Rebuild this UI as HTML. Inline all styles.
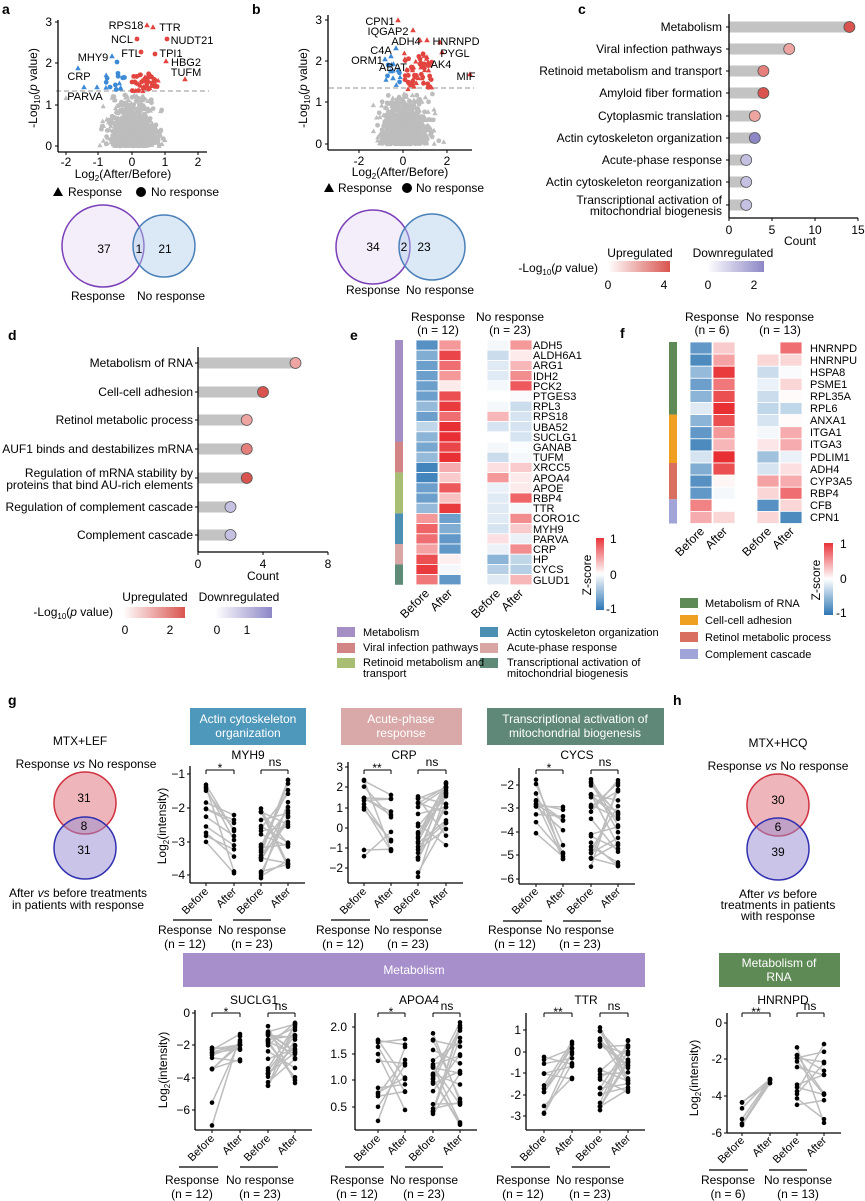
<!DOCTYPE html>
<html><head><meta charset="utf-8"><style>
html,body{margin:0;padding:0;background:#fff}
svg{display:block;font-family:"Liberation Sans",Arial,sans-serif}
.b{font-weight:bold;font-size:14px}
.t{font-size:11px}
.m{font-size:12px}
</style></head><body>
<svg id="s" width="865" height="1201" viewBox="0 0 865 1201" xmlns="http://www.w3.org/2000/svg">
<defs>
<linearGradient id="gu" x1="0" x2="1"><stop offset="0" stop-color="#fff"/><stop offset="1" stop-color="#d9544f"/></linearGradient>
<linearGradient id="gd" x1="0" x2="1"><stop offset="0" stop-color="#fff"/><stop offset="1" stop-color="#8d87c6"/></linearGradient>
<linearGradient id="gz" x1="0" x2="0" y1="0" y2="1"><stop offset="0" stop-color="#e8343a"/><stop offset="0.5" stop-color="#fff"/><stop offset="1" stop-color="#2d76b4"/></linearGradient>
</defs>
<g id="dyn"></g>
<g fill="#000">
<text class="b" x="2" y="14">a</text><text class="b" x="252" y="14">b</text><text class="b" x="578" y="14">c</text>
<text class="b" x="8" y="340">d</text><text class="b" x="350" y="340">e</text><text class="b" x="620" y="338">f</text>
<text class="b" x="8" y="705">g</text><text class="b" x="673" y="705">h</text>

<g class="m" text-anchor="end"><text x="52" y="26">3</text><text x="52" y="67">2</text><text x="52" y="109">1</text><text x="52" y="150">0</text></g>
<g class="m" text-anchor="middle"><text x="66" y="166">-2</text><text x="98" y="166">-1</text><text x="132" y="166">0</text><text x="165" y="166">1</text><text x="198" y="166">2</text>
<text x="123" y="178">Log<tspan font-size="8" dy="3">2</tspan><tspan dy="-3">(After/Before)</tspan></text></g>
<text class="m" transform="translate(37,88) rotate(-90)" text-anchor="middle">-Log<tspan font-size="8" dy="3">10</tspan><tspan dy="-3">(</tspan><tspan font-style="italic">p</tspan> value)</text>
<g class="t" text-anchor="middle"><text x="126" y="29">RPS18</text><text x="170" y="31">TTR</text><text x="122" y="43">NCL</text><text x="192" y="44">NUDT21</text>
<text x="93" y="61">MHY9</text><text x="131" y="57">FTL</text><text x="171" y="57">TPI1</text><text x="186" y="66">HBG2</text>
<text x="79" y="80">CRP</text><text x="186" y="76">TUFM</text><text x="85" y="100">PARVA</text></g>
<text class="m" x="68" y="196">Response</text><text class="m" x="151" y="196">No response</text>
<g class="m" text-anchor="end"><text x="322" y="24">3</text><text x="322" y="65">2</text><text x="322" y="106">1</text><text x="322" y="148">0</text></g>
<g class="m" text-anchor="middle"><text x="359" y="165">-2</text><text x="403" y="165">0</text><text x="447" y="165">2</text>
<text x="400" y="176">Log<tspan font-size="8" dy="3">2</tspan><tspan dy="-3">(After/Before)</tspan></text></g>
<text class="m" transform="translate(307,88) rotate(-90)" text-anchor="middle">-Log<tspan font-size="8" dy="3">10</tspan><tspan dy="-3">(</tspan><tspan font-style="italic">p</tspan> value)</text>
<g class="t" text-anchor="middle"><text x="380" y="25">CPN1</text><text x="388" y="35">IQGAP2</text><text x="406" y="45">ADH4</text><text x="381" y="54">C4A</text>
<text x="367" y="64">ORM1</text><text x="393" y="71">ABAT</text><text x="456" y="45">HNRNPD</text><text x="455" y="57">PYGL</text><text x="441" y="68">AK4</text><text x="466" y="80">MIF</text></g>
<text class="m" x="338" y="192">Response</text><text class="m" x="416" y="192">No response</text>
<circle cx="103" cy="246" r="41" fill="#f3eefa" stroke="#7b3fb8" stroke-width="1.5"/>
<circle cx="164" cy="246" r="31" fill="rgba(175,205,235,0.45)" stroke="#4a80b8" stroke-width="1.5"/>
<g class="m" text-anchor="middle"><text x="104" y="253">37</text><text x="139" y="253">1</text><text x="165" y="253">21</text>
<text x="98" y="300">Response</text><text x="171" y="300">No response</text></g>
<circle cx="373" cy="247" r="37" fill="#f3eefa" stroke="#7b3fb8" stroke-width="1.5"/>
<circle cx="432" cy="247" r="33" fill="rgba(175,205,235,0.45)" stroke="#4a80b8" stroke-width="1.5"/>
<g class="m" text-anchor="middle"><text x="373" y="251">34</text><text x="404" y="251">2</text><text x="424" y="251">23</text>
<text x="373" y="294">Response</text><text x="440" y="294">No response</text></g>

<g class="m" text-anchor="end">
<text x="722" y="31">Metabolism</text><text x="722" y="53">Viral infection pathways</text><text x="722" y="75">Retinoid metabolism and transport</text>
<text x="722" y="97">Amyloid fiber formation</text><text x="722" y="120">Cytoplasmic translation</text><text x="722" y="142">Actin cytoskeleton organization</text>
<text x="722" y="164">Acute-phase response</text><text x="722" y="186">Actin cytoskeleton reorganization</text>
<text x="722" y="204">Transcriptional activation of</text><text x="722" y="215">mitochondrial biogenesis</text></g>
<g class="m" text-anchor="middle"><text x="729" y="234">0</text><text x="772" y="234">5</text><text x="815" y="234">10</text><text x="858" y="234">15</text><text x="800" y="245">Count</text>
<text x="640" y="257">Upregulated</text><text x="733" y="257">Downregulated</text>
<text x="608" y="289">0</text><text x="664" y="289">4</text><text x="708" y="289">0</text><text x="754" y="289">2</text></g>
<text class="m" x="598" y="272" text-anchor="end">-Log<tspan font-size="8" dy="3">10</tspan><tspan dy="-3">(</tspan><tspan font-style="italic">p</tspan> value)</text>
<rect x="608" y="261" width="62" height="11" fill="url(#gu)"/><rect x="707" y="261" width="57" height="11" fill="url(#gd)"/>

<g class="m" text-anchor="end">
<text x="193" y="367">Metabolism of RNA</text><text x="193" y="396">Cell-cell adhesion</text><text x="193" y="424">Retinol metabolic process</text>
<text x="193" y="453">AUF1 binds and destabilizes mRNA</text><text x="193" y="477">Regulation of mRNA stability by</text><text x="193" y="489">proteins that bind AU-rich elements</text>
<text x="193" y="511">Regulation of complement cascade</text><text x="193" y="539">Complement cascade</text></g>
<g class="m" text-anchor="middle"><text x="198" y="568">0</text><text x="263" y="568">4</text><text x="328" y="568">8</text><text x="263" y="580">Count</text>
<text x="155" y="601">Upregulated</text><text x="239" y="601">Downregulated</text>
<text x="125" y="634">0</text><text x="170" y="634">2</text><text x="217" y="634">0</text><text x="247" y="634">1</text></g>
<text class="m" x="113" y="616" text-anchor="end">-Log<tspan font-size="8" dy="3">10</tspan><tspan dy="-3">(</tspan><tspan font-style="italic">p</tspan> value)</text>
<rect x="123" y="607" width="62" height="11" fill="url(#gu)"/><rect x="215" y="607" width="57" height="11" fill="url(#gd)"/>

<g class="m" text-anchor="middle"><text x="438" y="321">Response</text><text x="438" y="334">(n = 12)</text><text x="510" y="321">No response</text><text x="510" y="334">(n = 23)</text>
<text x="712" y="321">Response</text><text x="712" y="334">(n = 6)</text><text x="780" y="321">No response</text><text x="780" y="334">(n = 13)</text></g>
<g class="t">
<text x="533" y="349">ADH5</text><text x="533" y="359">ALDH6A1</text><text x="533" y="369">ARG1</text><text x="533" y="380">IDH2</text><text x="533" y="390">PCK2</text>
<text x="533" y="400">PTGES3</text><text x="533" y="410">RPL3</text><text x="533" y="420">RPS18</text><text x="533" y="431">UBA52</text><text x="533" y="441">SUCLG1</text>
<text x="533" y="451">GANAB</text><text x="533" y="461">TUFM</text><text x="533" y="471">XRCC5</text><text x="533" y="482">APOA4</text><text x="533" y="492">APOE</text>
<text x="533" y="502">RBP4</text><text x="533" y="512">TTR</text><text x="533" y="522">CORO1C</text><text x="533" y="533">MYH9</text><text x="533" y="543">PARVA</text>
<text x="533" y="553">CRP</text><text x="533" y="563">HP</text><text x="533" y="573">CYCS</text><text x="533" y="584">GLUD1</text>
<text x="810" y="352">HNRNPD</text><text x="810" y="364">HNRNPU</text><text x="810" y="376">HSPA8</text><text x="810" y="388">PSME1</text><text x="810" y="400">RPL35A</text>
<text x="810" y="412">RPL6</text><text x="810" y="424">ANXA1</text><text x="810" y="436">ITGA1</text><text x="810" y="448">ITGA3</text><text x="810" y="461">PDLIM1</text>
<text x="810" y="473">ADH4</text><text x="810" y="485">CYP3A5</text><text x="810" y="497">RBP4</text><text x="810" y="509">CFB</text><text x="810" y="521">CPN1</text>
</g>
<g class="m" text-anchor="end">
<text transform="translate(430,594) rotate(-45)">Before</text><text transform="translate(453,594) rotate(-45)">After</text>
<text transform="translate(501,594) rotate(-45)">Before</text><text transform="translate(524,594) rotate(-45)">After</text>
<text transform="translate(705,532) rotate(-45)">Before</text><text transform="translate(728,532) rotate(-45)">After</text>
<text transform="translate(772,532) rotate(-45)">Before</text><text transform="translate(795,532) rotate(-45)">After</text></g>
<rect x="596" y="538" width="8" height="72" fill="url(#gz)"/>
<g class="m"><text x="610" y="543">1</text><text x="610" y="579">0</text><text x="606" y="613">-1</text>
<text x="840" y="548">1</text><text x="840" y="583">0</text><text x="836" y="617">-1</text></g>
<rect x="824" y="543" width="9" height="72" fill="url(#gz)"/>
<text class="m" transform="translate(591,575) rotate(-90)" text-anchor="middle">Z-score</text>
<text class="m" transform="translate(820,580) rotate(-90)" text-anchor="middle">Z-score</text>
<rect x="337" y="627" width="18" height="10" fill="#a58ec4"/><rect x="337" y="643" width="18" height="10" fill="#d38585"/><rect x="337" y="658" width="18" height="10" fill="#a8bf73"/>
<rect x="480" y="627" width="18" height="10" fill="#4b8fb5"/><rect x="480" y="643" width="18" height="10" fill="#d9a6a6"/><rect x="480" y="658" width="18" height="10" fill="#5f8a77"/>
<g class="t"><text x="363" y="636">Metabolism</text><text x="363" y="651">Viral infection pathways</text><text x="363" y="666">Retinoid metabolism and</text><text x="363" y="677">transport</text>
<text x="507" y="636">Actin cytoskeleton organization</text><text x="507" y="651">Acute-phase response</text><text x="507" y="666">Transcriptional activation of</text><text x="507" y="677">mitochondrial biogenesis</text>
<text x="705" y="607">Metabolism of RNA</text><text x="705" y="624">Cell-cell adhesion</text><text x="705" y="641">Retinol metabolic process</text><text x="705" y="658">Complement cascade</text></g>
<rect x="680" y="598" width="18" height="10" fill="#5e8a55"/><rect x="680" y="615" width="18" height="10" fill="#f0a020"/><rect x="680" y="632" width="18" height="10" fill="#d9705f"/><rect x="680" y="649" width="18" height="10" fill="#a0a4d8"/>

<g class="m" text-anchor="middle"><text x="80" y="745">MTX+LEF</text><text x="86" y="768">Response <tspan font-style="italic">vs</tspan> No response</text>
<text x="78" y="897">After <tspan font-style="italic">vs</tspan> before treatments</text><text x="78" y="909">in patients with response</text></g>
<circle cx="85" cy="803" r="31" fill="rgba(222,110,120,0.5)" stroke="#d0303f" stroke-width="1.5"/>
<circle cx="85" cy="848" r="31" fill="rgba(150,140,210,0.5)" stroke="#3030b0" stroke-width="1.5"/>
<g class="m" text-anchor="middle"><text x="84" y="802">31</text><text x="84" y="830">8</text><text x="84" y="854">31</text></g>
<g class="m" text-anchor="middle"><text x="778" y="747">MTX+HCQ</text><text x="778" y="770">Response <tspan font-style="italic">vs</tspan> No response</text>
<text x="778" y="898">After <tspan font-style="italic">vs</tspan> before</text><text x="778" y="909">treatments in patients</text><text x="778" y="920">with response</text></g>
<circle cx="778" cy="805" r="31" fill="rgba(222,110,120,0.5)" stroke="#d0303f" stroke-width="1.5"/>
<circle cx="778" cy="849" r="31" fill="rgba(150,140,210,0.5)" stroke="#3030b0" stroke-width="1.5"/>
<g class="m" text-anchor="middle"><text x="778" y="804">30</text><text x="778" y="831">6</text><text x="778" y="856">39</text></g>

<rect x="190" y="708" width="116" height="37" fill="#4e98bb"/><rect x="341" y="708" width="121" height="37" fill="#d9a8a8"/><rect x="487" y="708" width="177" height="37" fill="#5f8878"/>
<rect x="183" y="953" width="462" height="34" fill="#a78fcb"/><rect x="719" y="953" width="121" height="34" fill="#5e8a55"/>
<g class="m" text-anchor="middle" fill="#fff"><text x="248" y="723">Actin cytoskeleton</text><text x="248" y="737">organization</text>
<text x="401" y="723">Acute-phase</text><text x="401" y="737">response</text><text x="575" y="723">Transcriptional activation of</text><text x="575" y="737">mitochondrial biogenesis</text>
<text x="414" y="974">Metabolism</text><text x="779" y="967">Metabolism of</text><text x="779" y="981">RNA</text></g>
<g class="m" text-anchor="middle"><text x="248" y="759">MYH9</text><text x="404" y="759">CRP</text><text x="577" y="759">CYCS</text>
<text x="254" y="1004">SUCLG1</text><text x="419" y="1004">APOA4</text><text x="586" y="1004">TTR</text><text x="783" y="1004">HNRNPD</text></g>
<g class="m" text-anchor="end">
<text x="185" y="778">−1</text><text x="185" y="812">−2</text><text x="185" y="846">−3</text><text x="185" y="879">−4</text>
<text x="343" y="771">3</text><text x="343" y="791">2</text><text x="343" y="812">1</text><text x="343" y="832">0</text><text x="343" y="852">−1</text><text x="343" y="872">−2</text>
<text x="514" y="789">−2</text><text x="514" y="812">−3</text><text x="514" y="836">−4</text><text x="514" y="859">−5</text><text x="514" y="883">−6</text>
<text x="190" y="1017">0</text><text x="190" y="1049">−2</text><text x="190" y="1082">−4</text><text x="190" y="1114">−6</text>
<text x="347" y="1031">2.0</text><text x="347" y="1058">1.5</text><text x="347" y="1084">1.0</text><text x="347" y="1111">0.5</text>
<text x="521" y="1034">1</text><text x="521" y="1056">0</text><text x="521" y="1077">-1</text><text x="521" y="1099">-2</text><text x="521" y="1120">-3</text>
<text x="722" y="1027">0</text><text x="722" y="1063">-2</text><text x="722" y="1100">-4</text><text x="722" y="1137">-6</text></g>
<g class="m" text-anchor="middle">
<text transform="translate(166,826) rotate(-90)">Log<tspan font-size="8" dy="3">2</tspan><tspan dy="-3">(intensity)</tspan></text>
<text transform="translate(167,1070) rotate(-90)">Log<tspan font-size="8" dy="3">2</tspan><tspan dy="-3">(intensity)</tspan></text>
<text transform="translate(698,1078) rotate(-90)">Log<tspan font-size="8" dy="3">2</tspan><tspan dy="-3">(intensity)</tspan></text></g>
<g class="m" text-anchor="middle"><text x="220" y="772">*</text><text x="275" y="766">ns</text>
<text x="377" y="772">**</text><text x="432" y="766">ns</text><text x="549" y="772">*</text><text x="605" y="766">ns</text>
<text x="226" y="1016">*</text><text x="281" y="1010">ns</text><text x="391" y="1016">*</text><text x="447" y="1010">ns</text>
<text x="558" y="1016">**</text><text x="614" y="1010">ns</text><text x="756" y="1016">**</text><text x="810" y="1010">ns</text></g>
<g class="t" text-anchor="end">
<text transform="translate(209,892) rotate(-45)">Before</text><text transform="translate(237,892) rotate(-45)">After</text><text transform="translate(264,892) rotate(-45)">Before</text><text transform="translate(291,892) rotate(-45)">After</text>
<text transform="translate(367,892) rotate(-45)">Before</text><text transform="translate(394,892) rotate(-45)">After</text><text transform="translate(421,892) rotate(-45)">Before</text><text transform="translate(449,892) rotate(-45)">After</text>
<text transform="translate(539,892) rotate(-45)">Before</text><text transform="translate(566,892) rotate(-45)">After</text><text transform="translate(594,892) rotate(-45)">Before</text><text transform="translate(621,892) rotate(-45)">After</text>
<text transform="translate(215,1139) rotate(-45)">Before</text><text transform="translate(243,1139) rotate(-45)">After</text><text transform="translate(271,1139) rotate(-45)">Before</text><text transform="translate(298,1139) rotate(-45)">After</text>
<text transform="translate(381,1139) rotate(-45)">Before</text><text transform="translate(408,1139) rotate(-45)">After</text><text transform="translate(436,1139) rotate(-45)">Before</text><text transform="translate(463,1139) rotate(-45)">After</text>
<text transform="translate(547,1139) rotate(-45)">Before</text><text transform="translate(575,1139) rotate(-45)">After</text><text transform="translate(603,1139) rotate(-45)">Before</text><text transform="translate(631,1139) rotate(-45)">After</text>
<text transform="translate(745,1141) rotate(-45)">Before</text><text transform="translate(773,1141) rotate(-45)">After</text><text transform="translate(800,1141) rotate(-45)">Before</text><text transform="translate(827,1141) rotate(-45)">After</text></g>
<g class="m" text-anchor="middle">
<text x="185" y="934">Response</text><text x="185" y="948">(n = 12)</text><text x="252" y="934">No response</text><text x="252" y="948">(n = 23)</text>
<text x="343" y="934">Response</text><text x="343" y="948">(n = 12)</text><text x="408" y="934">No response</text><text x="408" y="948">(n = 23)</text>
<text x="515" y="934">Response</text><text x="515" y="948">(n = 12)</text><text x="580" y="934">No response</text><text x="580" y="948">(n = 23)</text>
<text x="192" y="1184">Response</text><text x="192" y="1198">(n = 12)</text><text x="260" y="1184">No response</text><text x="260" y="1198">(n = 23)</text>
<text x="357" y="1184">Response</text><text x="357" y="1198">(n = 12)</text><text x="424" y="1184">No response</text><text x="424" y="1198">(n = 23)</text>
<text x="523" y="1184">Response</text><text x="523" y="1198">(n = 12)</text><text x="590" y="1184">No response</text><text x="590" y="1198">(n = 23)</text>
<text x="728" y="1184">Response</text><text x="728" y="1198">(n = 6)</text><text x="798" y="1184">No response</text><text x="798" y="1198">(n = 13)</text></g>
</g>
</svg>
<script>
var NS='http://www.w3.org/2000/svg',G=document.getElementById('dyn');
function el(t,a){var e=document.createElementNS(NS,t);for(var k in a)e.setAttribute(k,a[k]);G.appendChild(e);return e;}
var seed=12345;function r(){seed=(seed*16807)%2147483647;return (seed-1)/2147483646;}
function nrm(){return Math.sqrt(-2*Math.log(r()+1e-9))*Math.cos(2*Math.PI*r());}
function U(a,b){return a+r()*(b-a);}
function tri(x,y,s,c){el('polygon',{points:x+','+(y-s)+' '+(x-s)+','+(y+s*0.8)+' '+(x+s)+','+(y+s*0.8),fill:c});}
function dot(x,y,rr,c,st){var o={cx:x,cy:y,r:rr,fill:c};if(st){o.stroke=st;o['stroke-width']=0.8;}el('circle',o);}
function line(x1,y1,x2,y2,c,w,da){var o={x1:x1,y1:y1,x2:x2,y2:y2,stroke:c,'stroke-width':w||1};if(da)o['stroke-dasharray']=da;el('line',o);}
var GR='#bdbdbd',RD='#e2443f',BL='#3d8ad6';
function volcano(x0,sx,y0,sy,sdx,yl,xmin,xmax){
 for(var i=0;i<1100;i++){var lx=nrm()*sdx+0.05,v=Math.abs(nrm())*0.42;if(r()<0.05)v=U(0.3,1.25);if(v>1.28)v=r()*1.2;
  var x=x0+lx*sx,y=y0-v*sy;if(x<xmin||x>xmax)continue;if(r()<0.5)tri(x,y,2.6,GR);else dot(x,y,2.4,GR);}
 line(xmin-6,yl,xmax+4,yl,'#aaa',1.2,'5,3');
}
volcano(132,33,146,41.3,0.33,91,62,205);
tri(66,98,2.6,GR);
for(var i=0;i<50;i++){var x=132+U(0,0.8)*33,y=146-U(1.33,1.75)*41.3;if(r()<0.5)tri(x,y,2.6,RD);else dot(x,y,2.4,RD);}
for(var i=0;i<16;i++){var x=132+U(-0.8,-0.15)*33,y=146-U(1.33,1.85)*41.3;if(r()<0.5)tri(x,y,2.6,BL);else dot(x,y,2.4,BL);}
[[147,25],[153,27],[166,61],[185,79]].forEach(function(p){tri(p[0],p[1],2.8,RD)});
[[137,39],[167,39],[141,52],[155,54]].forEach(function(p){dot(p[0],p[1],2.4,RD)});
[[112,56],[78,68],[84,87],[97,87]].forEach(function(p){tri(p[0],p[1],2.8,BL)});dot(117,62,2.4,BL);
line(58,20,58,152,'#000',1.3);line(58,152,207,152,'#000',1.3);
[22,63,105,146].forEach(function(y){line(55,y,58,y,'#000')});[66,98,132,165,198].forEach(function(x){line(x,152,x,155,'#000')});
tri(58,192,5,'#000');dot(141,192,5,'#000');
volcano(403,22,144,41.3,0.5,88,335,470);
for(var i=0;i<65;i++){var x=403+U(0.05,1.3)*22,y=144-U(1.33,2.2)*41.3;if(r()<0.5)tri(x,y,2.6,RD);else dot(x,y,2.4,RD);}
for(var i=0;i<12;i++){var x=403+U(-0.8,-0.1)*22,y=144-U(1.33,2.0)*41.3;if(r()<0.5)tri(x,y,2.6,BL);else dot(x,y,2.4,BL);}
[[398,20],[413,30],[420,40],[427,40],[440,42],[442,52],[428,62],[470,74]].forEach(function(p){tri(p[0],p[1],2.8,RD)});
[[396,48],[391,56],[385,59],[398,70],[393,78]].forEach(function(p){tri(p[0],p[1],2.8,BL)});
line(328,15,328,150,'#000',1.3);line(328,150,472,150,'#000',1.3);
[20,61,102,144].forEach(function(y){line(325,y,328,y,'#000')});[359,403,447].forEach(function(x){line(x,150,x,153,'#000')});
tri(329,188,5,'#000');dot(407,188,5,'#000');
var dk='#d9544f',md='#e57f7b',lt='#eea5a2',pd='#8d87c6',pl='#c5c1e3';
[[27,14,dk],[49,7,lt],[71,4,md],[93,4,dk],[116,3,lt],[138,3,pd],[160,2,pl],[182,2,pl],[205,2,pl]].forEach(function(d){
 var x=729+d[1]*8.6;el('rect',{x:729,y:d[0]-5.5,width:x-729,height:11,fill:'#c3c3c3'});dot(x,d[0],5.5,d[2],'#555');line(726,d[0],729,d[0],'#000');});
line(729,14,729,218,'#000',1.3);line(729,218,858,218,'#000',1.3);[729,772,815,858].forEach(function(x){line(x,218,x,221,'#000')});
[[363,6,lt],[392,4,dk],[420,3,lt],[449,3,md],[478,3,dk],[507,2,pl],[535,2,pl]].forEach(function(d){
 var x=198+d[1]*16.25;el('rect',{x:198,y:d[0]-5.5,width:x-198,height:11,fill:'#c3c3c3'});dot(x,d[0],5.5,d[2],'#555');line(195,d[0],198,d[0],'#000');});
line(198,347,198,552,'#000',1.3);line(198,552,328,552,'#000',1.3);[198,263,328].forEach(function(x){line(x,552,x,555,'#000')});
function hc(v){var R=[232,48,52],B=[45,118,180],c=v>0?R:B,t=Math.min(1,Math.abs(v));
 return 'rgb('+Math.round(255+(c[0]-255)*t)+','+Math.round(255+(c[1]-255)*t)+','+Math.round(255+(c[2]-255)*t)+')';}
var E=[[-.8,.5,-.05,.5],[-.6,.9,-.25,.1],[-.7,.7,-.15,.35],[-.7,.5,-.15,.55],[-.7,.1,-.05,.8],[-.7,.85,0,-.03],[-.5,.95,-.05,-.25],[-.7,.7,.35,-.2],[-.3,1,-.2,-.2],[-.55,1,0,-.2],[-.65,.9,-.05,-.02],[-.5,1,-.25,-.05],[-.9,.4,.15,.25],[-.9,.25,.5,.1],[-.7,.8,-.1,.1],[-.7,.3,-.15,.75],[-.5,.95,-.15,-.05],[.5,-.7,-.15,.55],[.75,-.6,-.2,.25],[.7,-.75,.15,-.1],[.45,-.75,-.1,.55],[.85,.08,-.55,-.3],[.95,-.05,-.35,-.35],[.65,-.75,-.15,.35]];
var ex=[416,439,487,510],eh=10.2;
E.forEach(function(row,i){row.forEach(function(v,j){el('rect',{x:ex[j],y:340+i*eh,width:22,height:eh,fill:hc(v),stroke:'#fff','stroke-width':0.8});});});
[[0,10,'#a58ec4'],[10,13,'#d38585'],[13,17,'#a8bf73'],[17,20,'#4b8fb5'],[20,22,'#d9a6a6'],[22,24,'#5f8a77']].forEach(function(s){el('rect',{x:395,y:340+s[0]*eh,width:8,height:(s[1]-s[0])*eh,fill:s[2]});});
var F=[[-.75,.25,0,.7],[-.85,.45,.2,.2],[-.5,.95,-.25,-.03],[-.7,.65,-.1,.2],[-.55,.85,-.25,.02],[-.15,1,-.3,-.3],[-.55,.85,-.2,.02],[-.75,.5,-.05,.4],[-.85,.35,.12,.4],[-.2,1,-.45,-.1],[-.6,.85,-.2,.15],[-.8,.05,.45,.4],[-.75,-.05,.2,.7],[.6,0,-.8,.2],[.4,.2,.2,-.85]];
var fx=[690,713,757,780],fh=12.1;
F.forEach(function(row,i){row.forEach(function(v,j){el('rect',{x:fx[j],y:342+i*fh,width:22,height:fh,fill:hc(v),stroke:'#fff','stroke-width':0.8});});});
[[0,6,'#5e8a55'],[6,10,'#f0a020'],[10,13,'#d9705f'],[13,15,'#a0a4d8']].forEach(function(s){el('rect',{x:669,y:342+s[0]*fh,width:8,height:(s[1]-s[0])*fh,fill:s[2]});});
function pp(ax,top,bot,xs,ticks,yf,nR,rb,ra,nN,nb,na,bry,over){
 function grp(n,b,a,x1,x2,ov){var bs=[],as=[];for(var i=0;i<n;i++){bs.push(yf(U(b[0],b[1])));as.push(yf(U(a[0],a[1])));}
  if(ov)ov.forEach(function(v,i){bs[i]=yf(v);});
  for(var i=0;i<n;i++)line(x1,bs[i],x2,as[i],'#bdbdbd',1.5);for(var i=0;i<n;i++){dot(x1,bs[i],2.3,'#000');dot(x2,as[i],2.3,'#000');}}
 grp(nR,rb,ra,xs[0],xs[1],over);grp(nN,nb,na,xs[2],xs[3]);
 line(ax,top,ax,bot,'#000',1.3);line(ax,bot,xs[3]+17,bot,'#000',1.3);
 ticks.forEach(function(y){line(ax-3,y,ax,y,'#000')});xs.forEach(function(x){line(x,bot,x,bot+3,'#000')});
 [[xs[0],xs[1]],[xs[2],xs[3]]].forEach(function(p){line(p[0],bry,p[1],bry,'#000');line(p[0],bry,p[0],bry+4,'#000');line(p[1],bry,p[1],bry+4,'#000');});
 var ly=bot+37;line(xs[0]-33,ly,xs[0]+6,ly,'#000',1.2);line(xs[2]-28,ly,xs[2]+10,ly,'#000',1.2);
}
pp(190,766,883,[206,234,261,288],[774,808,842,875],function(v){return 774+(-1-v)*34},12,[-3.1,-1],[-4.1,-1.6],23,[-4.1,-1.9],[-3.8,-1],770);
pp(348,762,883,[364,391,418,446],[767,787,808,828,848,868],function(v){return 828-v*20.2},12,[-1.8,2.5],[-1.5,1.8],23,[-2.5,1.8],[-0.9,2.3],770);
pp(519,768,884,[536,563,591,618],[785,808,832,855,879],function(v){return 785+(-2-v)*23.5},12,[-4.7,-1.7],[-6,-2.7],23,[-5.5,-1.7],[-5.5,-1.7],770);
pp(195,1010,1130,[212,240,268,295],[1013,1045,1078,1110],function(v){return 1013-v*16.3},12,[-3.6,-2.1],[-3,-1.1],23,[-4.7,-0.6],[-4.3,-0.6],1013,[-5.5,-6.9]);
pp(355,1013,1130,[378,405,433,460],[1027,1054,1080,1107],function(v){return 1080-(v-1)*53},12,[0.15,1.8],[0.4,1.9],23,[0.3,1.9],[0.15,2.1],1013);
pp(526,1013,1130,[544,572,600,628],[1030,1052,1073,1095,1116],function(v){return 1052-v*21.5},12,[-3,0.1],[-1.35,0.6],23,[-3.4,1.35],[-1.9,0.6],1013);
pp(727,1013,1133,[742,770,797,824],[1023,1059,1096,1133],function(v){return 1023-v*18.4},6,[-5.6,-3.7],[-3.3,-2.6],13,[-4.6,-1.3],[-5.7,-0.2],1013);
</script>
</body></html>
